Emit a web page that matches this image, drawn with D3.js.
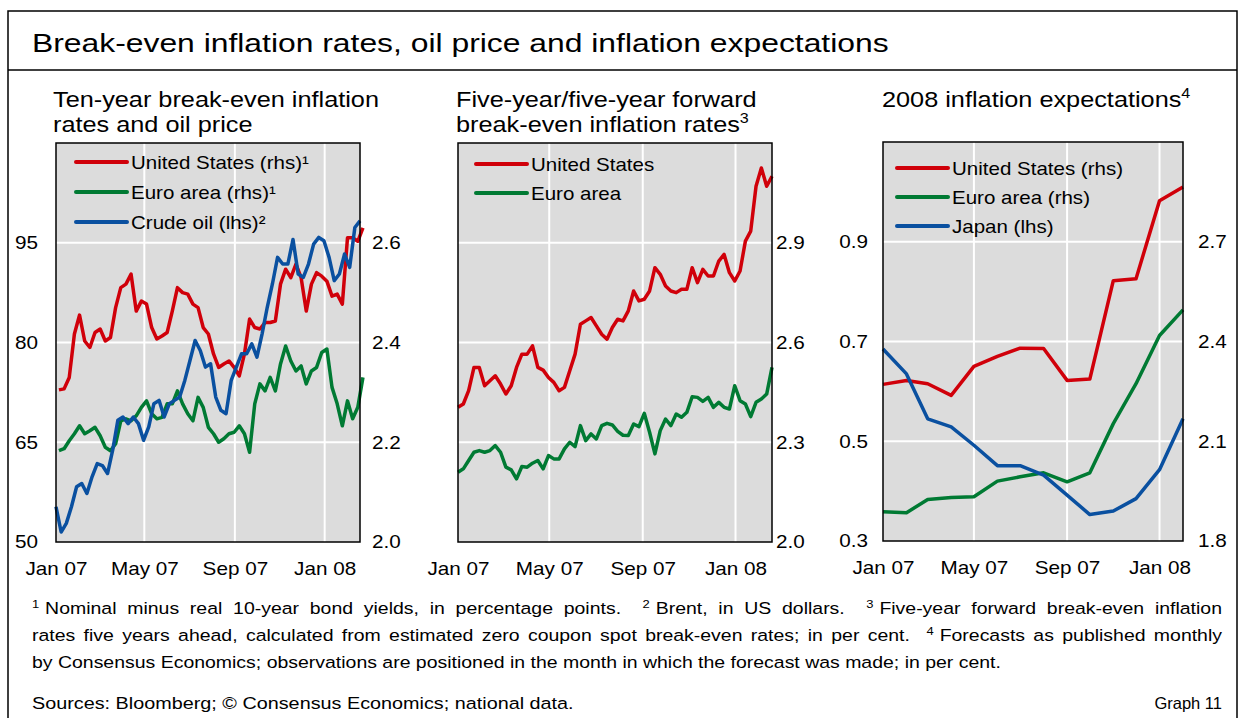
<!DOCTYPE html>
<html>
<head>
<meta charset="utf-8">
<script src="https://cdn.jsdelivr.net/npm/d3@7"></script>
<style>
  body { margin: 0; background: #fff; }
  text { font-family: "Liberation Sans", Arial, sans-serif; fill: #000; }
</style>
</head>
<body>
<script>
// weekly observation dates, Jan 2007 - Feb 2008
const start = new Date(2007, 0, 1);
const weeks = d3.range(60).map(k => d3.timeDay.offset(start, 7 * k));
const months = d3.range(14).map(k => new Date(2007, k, 1));

// Panel 1: ten-year break-even rates (rhs) and crude oil (lhs)
const tenUS = [2.305, 2.307, 2.33, 2.417, 2.455, 2.403, 2.39, 2.42, 2.427, 2.403,
  2.41, 2.47, 2.51, 2.517, 2.537, 2.463, 2.483, 2.477, 2.43, 2.407,
  2.413, 2.42, 2.463, 2.51, 2.5, 2.497, 2.477, 2.47, 2.43, 2.417,
  2.377, 2.35, 2.357, 2.363, 2.35, 2.333, 2.377, 2.447, 2.43, 2.427,
  2.44, 2.44, 2.443, 2.517, 2.547, 2.53, 2.557, 2.53, 2.463, 2.517,
  2.54, 2.533, 2.523, 2.493, 2.497, 2.477, 2.61, 2.61, 2.603, 2.63];
const tenEuro = [2.183, 2.187, 2.203, 2.217, 2.233, 2.217, 2.223, 2.23, 2.213, 2.19,
  2.183, 2.197, 2.243, 2.247, 2.243, 2.253, 2.27, 2.283, 2.257, 2.247,
  2.25, 2.277, 2.277, 2.303, 2.277, 2.257, 2.243, 2.29, 2.27, 2.23,
  2.217, 2.2, 2.207, 2.217, 2.22, 2.233, 2.217, 2.18, 2.277, 2.317,
  2.303, 2.33, 2.303, 2.357, 2.393, 2.363, 2.343, 2.353, 2.317, 2.343,
  2.35, 2.38, 2.387, 2.31, 2.277, 2.233, 2.283, 2.247, 2.27, 2.33];
const crudeOil = [55.3, 51.5, 52.8, 55.3, 58.3, 58.8, 57.3, 59.8, 61.8, 61.5,
  60.3, 63.8, 68.3, 68.8, 67.8, 68.8, 67.8, 65.3, 67.3, 70.8,
  71.3, 68.8, 70.8, 71.3, 71.8, 74.3, 77.3, 80.3, 78.8, 76.3,
  76.8, 71.8, 69.8, 69.3, 74.3, 76.3, 78.3, 78.3, 79.8, 77.8,
  81.3, 85.3, 88.8, 92.8, 91.8, 91.8, 95.5, 90.3, 89.8, 91.8,
  94.8, 95.8, 95.3, 92.8, 89.3, 90.3, 93.3, 91.3, 97.3, 98.3];

// Panel 2: five-year/five-year forward break-even rates
const fwdUS = [2.405, 2.415, 2.455, 2.525, 2.525, 2.47, 2.485, 2.5, 2.475, 2.445,
  2.47, 2.525, 2.565, 2.565, 2.59, 2.525, 2.517, 2.495, 2.48, 2.455,
  2.465, 2.515, 2.565, 2.655, 2.665, 2.675, 2.65, 2.625, 2.61, 2.645,
  2.67, 2.665, 2.695, 2.755, 2.725, 2.73, 2.755, 2.825, 2.805, 2.77,
  2.755, 2.75, 2.76, 2.76, 2.825, 2.78, 2.82, 2.8, 2.8, 2.845,
  2.865, 2.81, 2.785, 2.815, 2.905, 2.935, 3.07, 3.125, 3.07, 3.1];
const fwdEuro = [2.21, 2.22, 2.245, 2.27, 2.275, 2.27, 2.275, 2.29, 2.27, 2.225,
  2.217, 2.19, 2.227, 2.225, 2.237, 2.245, 2.22, 2.26, 2.25, 2.25,
  2.28, 2.3, 2.287, 2.35, 2.305, 2.325, 2.31, 2.35, 2.357, 2.352,
  2.333, 2.321, 2.32, 2.355, 2.347, 2.387, 2.33, 2.265, 2.335, 2.37,
  2.35, 2.385, 2.375, 2.39, 2.437, 2.435, 2.423, 2.435, 2.405, 2.42,
  2.405, 2.4, 2.47, 2.425, 2.415, 2.377, 2.42, 2.43, 2.445, 2.525];

// Panel 3: 2008 inflation expectations (monthly)
const expUS = [2.271, 2.283, 2.273, 2.238, 2.325, 2.355, 2.38, 2.379, 2.283, 2.287,
  2.583, 2.589, 2.823, 2.865];
const expEuro = [1.888, 1.885, 1.925, 1.931, 1.933, 1.98, 1.993, 2.005, 1.978, 2.005,
  2.153, 2.273, 2.418, 2.495];
const expJapan = [0.685, 0.635, 0.545, 0.529, 0.492, 0.451, 0.451, 0.432, 0.392, 0.353,
  0.36, 0.385, 0.443, 0.545];

const tickDates = [new Date(2007, 0, 1), new Date(2007, 4, 1), new Date(2007, 8, 1), new Date(2008, 0, 1)];
const red = '#d0000a', green = '#007a33', blue = '#0a50a0';

const width = 1239, height = 718;
const svg = d3.select('body').append('svg')
  .attr('width', width)
  .attr('height', height);

// the source typeface is wider than Arial, so stretch text horizontally
function stretch(sel, k) {
  sel.each(function () {
    const t = d3.select(this);
    const x = +t.attr('x') || 0, y = +t.attr('y') || 0;
    t.attr('x', 0).attr('y', 0).attr('transform', `translate(${x},${y}) scale(${k},1)`);
  });
}
function addText(x, y, size, k, txt) {
  const t = svg.append('text')
    .attr('transform', `translate(${x},${y}) scale(${k},1)`)
    .style('font-size', size + 'px');
  if (txt) t.text(txt);
  return t;
}

// frame and title
svg.append('path')
  .attr('d', `M8,${height + 2}V11H1237V${height + 2}`)
  .attr('fill', 'none').attr('stroke', '#000').attr('stroke-width', 1.5);
svg.append('line')
  .attr('x1', 8).attr('x2', 1237).attr('y1', 70).attr('y2', 70)
  .attr('stroke', '#000').attr('stroke-width', 1.5);
addText(32, 52, 26, 1.225, 'Break-even inflation rates, oil price and inflation expectations');

function panel(cfg) {
  const g = svg.append('g');
  const x = d3.scaleTime().domain(cfg.xDomain).range([cfg.left, cfg.right]);

  g.append('rect')
    .attr('x', cfg.left).attr('y', cfg.top)
    .attr('width', cfg.right - cfg.left).attr('height', cfg.bottom - cfg.top)
    .attr('fill', '#dcdcdc');

  const yGrid = cfg.yLeft || cfg.yRight;
  const gridTicks = cfg.yLeft ? cfg.leftTicks : cfg.rightTicks;
  g.selectAll('line.hgrid')
    .data(gridTicks.slice(1))
    .enter().append('line')
    .attr('x1', cfg.left).attr('x2', cfg.right)
    .attr('y1', d => yGrid(d)).attr('y2', d => yGrid(d))
    .attr('stroke', '#fff').attr('stroke-width', 2);
  g.selectAll('line.vgrid')
    .data(tickDates.slice(1))
    .enter().append('line')
    .attr('y1', cfg.top).attr('y2', cfg.bottom)
    .attr('x1', d => x(d)).attr('x2', d => x(d))
    .attr('stroke', '#fff').attr('stroke-width', 2);

  cfg.series.forEach(s => {
    const y = s.axis === 'left' ? cfg.yLeft : cfg.yRight;
    g.append('path')
      .datum(s.values.map((v, i) => [s.dates[i], v]))
      .attr('fill', 'none')
      .attr('stroke', s.color)
      .attr('stroke-width', 3.5)
      .attr('stroke-linejoin', 'round')
      .attr('d', d3.line().x(d => x(d[0])).y(d => y(d[1])));
  });

  g.append('rect')
    .attr('x', cfg.left).attr('y', cfg.top)
    .attr('width', cfg.right - cfg.left).attr('height', cfg.bottom - cfg.top)
    .attr('fill', 'none').attr('stroke', '#000').attr('stroke-width', 1.5);

  // axes
  g.append('g')
    .attr('transform', `translate(0,${cfg.bottom})`)
    .call(d3.axisBottom(x).tickValues(tickDates).tickSize(0).tickPadding(20)
      .tickFormat(d3.timeFormat('%b %y')));
  if (cfg.yLeft) {
    g.append('g')
      .attr('transform', `translate(${cfg.left},0)`)
      .call(d3.axisLeft(cfg.yLeft).tickValues(cfg.leftTicks).tickSize(0)
        .tickPadding(cfg.leftPad).tickFormat(cfg.leftFormat));
  }
  if (cfg.yRight) {
    g.append('g')
      .attr('transform', `translate(${cfg.right},0)`)
      .call(d3.axisRight(cfg.yRight).tickValues(cfg.rightTicks).tickSize(0)
        .tickPadding(cfg.rightPad).tickFormat(d3.format('.1f')));
  }
  g.selectAll('.domain').remove();
  g.selectAll('.tick text')
    .style('font-size', '18px')
    .style('font-family', '"Liberation Sans", Arial, sans-serif')
    .attr('fill', '#000')
    .call(stretch, 1.15);

  // subtitle
  const st = addText(cfg.titleX, 107, 22, 1.15);
  cfg.title.forEach((line, i) => {
    st.append('tspan').attr('x', 0).attr('dy', i ? 25 : 0).text(line.text);
    if (line.sup) {
      st.append('tspan').attr('dy', -9).style('font-size', '14px').text(line.sup);
    }
  });

  // legend
  cfg.series.forEach((s, i) => {
    const yy = cfg.legendY + i * cfg.legendStep;
    g.append('line')
      .attr('x1', cfg.legendX).attr('x2', cfg.legendX + 51)
      .attr('y1', yy).attr('y2', yy)
      .attr('stroke', s.color).attr('stroke-width', 4).attr('stroke-linecap', 'round');
    addText(cfg.legendX + 55, yy + 6.5, 18, 1.14, s.label);
  });
}

const dailyDomain = [start, d3.timeDay.offset(start, 413)];

panel({
  left: 56, right: 360, top: 143, bottom: 542,
  xDomain: dailyDomain,
  yLeft: d3.scaleLinear().domain([50, 110]).range([542, 143]),
  yRight: d3.scaleLinear().domain([2.0, 2.8]).range([542, 143]),
  leftTicks: [50, 65, 80, 95], leftPad: 18, leftFormat: d3.format('d'),
  rightTicks: [2.0, 2.2, 2.4, 2.6], rightPad: 12,
  titleX: 53,
  title: [{ text: 'Ten-year break-even inflation' }, { text: 'rates and oil price' }],
  legendX: 76, legendY: 162, legendStep: 30,
  series: [
    { label: 'United States (rhs)\u00b9', values: tenUS, dates: weeks.map(d => d3.timeDay.offset(d, 4)), axis: 'right', color: red },
    { label: 'Euro area (rhs)\u00b9', values: tenEuro, dates: weeks.map(d => d3.timeDay.offset(d, 4)), axis: 'right', color: green },
    { label: 'Crude oil (lhs)\u00b2', values: crudeOil, dates: weeks, axis: 'left', color: blue }
  ]
});

panel({
  left: 458, right: 772, top: 143, bottom: 542,
  xDomain: dailyDomain,
  yRight: d3.scaleLinear().domain([2.0, 3.2]).range([542, 143]),
  rightTicks: [2.0, 2.3, 2.6, 2.9], rightPad: 4,
  titleX: 456,
  title: [{ text: 'Five-year/five-year forward' }, { text: 'break-even inflation rates', sup: '3' }],
  legendX: 476, legendY: 164, legendStep: 29,
  series: [
    { label: 'United States', values: fwdUS, dates: weeks, axis: 'right', color: red },
    { label: 'Euro area', values: fwdEuro, dates: weeks, axis: 'right', color: green }
  ]
});

panel({
  left: 883, right: 1183, top: 142, bottom: 541,
  xDomain: [months[0], months[13]],
  yLeft: d3.scaleLinear().domain([0.3, 1.1]).range([541, 142]),
  yRight: d3.scaleLinear().domain([1.8, 3.0]).range([541, 142]),
  leftTicks: [0.3, 0.5, 0.7, 0.9], leftPad: 15, leftFormat: d3.format('.1f'),
  rightTicks: [1.8, 2.1, 2.4, 2.7], rightPad: 15,
  titleX: 882,
  title: [{ text: '2008 inflation expectations', sup: '4' }],
  legendX: 897, legendY: 168, legendStep: 29,
  series: [
    { label: 'United States (rhs)', values: expUS, dates: months, axis: 'right', color: red },
    { label: 'Euro area (rhs)', values: expEuro, dates: months, axis: 'right', color: green },
    { label: 'Japan (lhs)', values: expJapan, dates: months, axis: 'left', color: blue }
  ]
});

// footnotes
const notes = [
  [['1', 'Nominal minus real 10-year bond yields, in percentage points.  '], ['2', 'Brent, in US dollars.  '], ['3', 'Five-year forward break-even inflation']],
  [['', 'rates five years ahead, calculated from estimated zero coupon spot break-even rates; in per cent.  '], ['4', 'Forecasts as published monthly']],
  [['', 'by Consensus Economics; observations are positioned in the month in which the forecast was made; in per cent.']]
];
const noteK = 1.18;
notes.forEach((parts, i) => {
  const t = addText(32, 614 + i * 27, 16.5, noteK).attr('xml:space', 'preserve');
  let spaces = 0;
  parts.forEach(([sup, txt]) => {
    if (sup) {
      t.append('tspan').attr('dy', -6).style('font-size', '11px').text(sup);
      t.append('tspan').attr('dy', 6).attr('dx', 5).text(txt);
    } else {
      t.append('tspan').text(txt);
    }
    spaces += (txt.match(/ /g) || []).length;
  });
  if (i < 2) {
    // justify the full lines by adjusting word gaps, measured on the real box
    const target = 1190 / noteK;
    let ws = 0;
    for (let it = 0; it < 3; it++) {
      const w = t.node().getBBox().width;
      ws += (target - w) / spaces;
      t.style('word-spacing', ws + 'px');
    }
  }
});
addText(32, 709, 16.5, 1.2, 'Sources: Bloomberg; \u00a9 Consensus Economics; national data.');
addText(1222, 709, 16.5, 1, 'Graph 11').attr('text-anchor', 'end');
</script>
</body>
</html>
